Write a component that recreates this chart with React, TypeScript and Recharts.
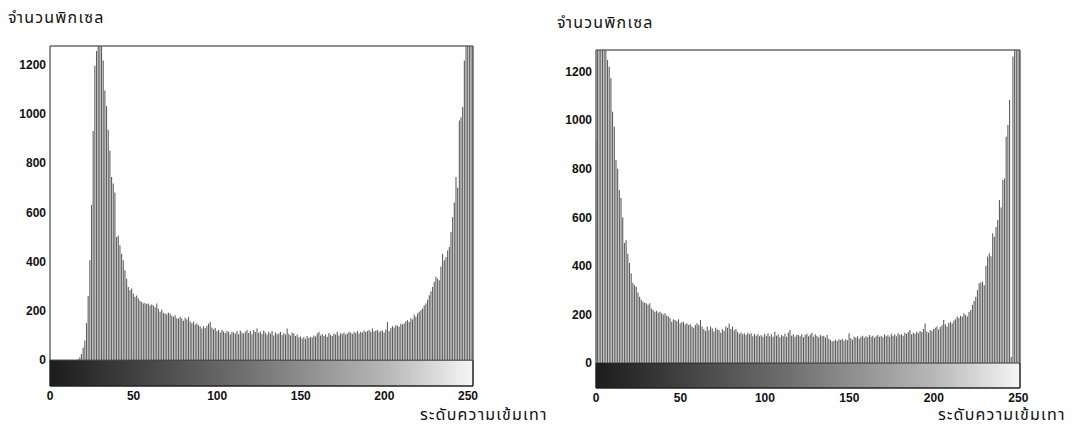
import { Bar, BarChart, ReferenceArea, XAxis, YAxis } from "recharts";

const grayLevels = Array.from({ length: 256 }, (_, i) => i);
const xTicks = [0, 50, 100, 150, 200, 250];
const yTicks = [0, 200, 400, 600, 800, 1000, 1200];
const yTitle = "จำนวนพิกเซล";
const xTitle = "ระดับความเข้มเทา";

// pixel counts per gray level
const leftCounts = [
  0, 0, 0, 0, 0, 0, 0, 0, 0, 0, 0, 0, 0, 0, 0, 0,
  0, 4, 12, 25, 50, 80, 150, 260, 405, 630, 930, 1195, 1255, 1400, 1320, 1290,
  1216, 1094, 1030, 935, 850, 743, 717, 680, 500, 505, 466, 432, 405, 365, 330, 297,
  284, 291, 270, 257, 262, 250, 241, 236, 230, 232, 228, 230, 222, 226, 223, 215,
  230, 209, 196, 205, 192, 189, 186, 192, 189, 180, 176, 182, 170, 169, 176, 169,
  160, 172, 165, 176, 158, 150, 156, 145, 149, 142, 136, 128, 138, 130, 140, 148,
  155, 132, 125, 130, 118, 122, 112, 122, 116, 110, 118, 115, 105, 115, 112, 108,
  118, 105, 120, 112, 108, 115, 122, 110, 118, 105, 122, 114, 128, 110, 116, 106,
  120, 112, 104, 115, 108, 118, 100, 112, 105, 108, 115, 102, 110, 104, 128, 106,
  100, 112, 108, 98, 104, 92, 96, 88, 94, 86, 98, 90, 95, 92, 100, 96,
  108, 115, 100, 106, 98, 104, 95, 110, 102, 98, 108, 104, 115, 100, 110, 106,
  112, 104, 108, 115, 112, 106, 115, 110, 118, 108, 115, 112, 120, 114, 118, 122,
  115, 128, 116, 120, 122, 115, 118, 120, 112, 124, 155, 118, 130, 138, 132, 142,
  140, 135, 148, 145, 150, 158, 162, 155, 170, 165, 185, 176, 190, 196, 203, 210,
  222, 230, 245, 263, 280, 297, 318, 338, 330, 324, 380, 432, 405, 419, 445, 459,
  520, 581, 640, 743, 700, 973, 986, 1027, 1216, 1300, 1350, 1320, 1380, 1300, 1340, 1300,
];

const rightCounts = [
  920, 1400, 1380, 1420, 1350, 1400, 1300, 1248, 1220, 1173, 1035, 973, 836, 800, 712, 680,
  600, 494, 506, 450, 412, 370, 329, 320, 314, 290, 273, 260, 252, 248, 246, 240,
  246, 225, 218, 211, 215, 208, 211, 205, 200, 205, 196, 191, 185, 170, 180, 177,
  172, 180, 164, 168, 170, 160, 164, 156, 160, 150, 145, 156, 164, 155, 177, 150,
  140, 132, 150, 135, 150, 142, 130, 145, 138, 136, 125, 140, 132, 150, 145, 163,
  140, 150, 135, 140, 129, 120, 126, 118, 122, 115, 125, 118, 122, 110, 120, 112,
  118, 110, 115, 108, 120, 112, 122, 110, 118, 108, 129, 112, 118, 106, 115, 110,
  120, 108, 125, 136, 112, 118, 108, 115, 115, 110, 118, 106, 115, 120, 110, 116,
  125, 108, 118, 112, 106, 115, 110, 112, 105, 115, 100, 95, 88, 92, 96, 90,
  98, 95, 100, 92, 98, 94, 122, 102, 96, 108, 104, 110, 100, 108, 112, 104,
  110, 106, 115, 108, 112, 104, 110, 115, 108, 112, 106, 118, 110, 115, 108, 120,
  112, 118, 110, 122, 115, 118, 112, 125, 120, 128, 136, 118, 125, 120, 129, 122,
  132, 128, 140, 163, 130, 125, 136, 132, 140, 145, 150, 138, 148, 155, 177, 160,
  150, 165, 170, 163, 175, 180, 191, 185, 195, 190, 205, 198, 191, 210, 218, 240,
  255, 273, 300, 328, 331, 335, 320, 400, 438, 452, 440, 534, 520, 560, 589, 671,
  640, 754, 760, 932, 980, 1083, 25, 1262, 1350, 1400, 1380, 1300, 1320, 1300, 1280, 1260,
];

const tickFont = {
  fontFamily: "'Liberation Sans', Arial, sans-serif",
  fontSize: 12,
  fontWeight: 700,
  fill: "#111",
};

const titleStyle = {
  position: "absolute" as const,
  fontFamily: "'Noto Sans Thai', 'Noto Sans', 'DejaVu Sans', sans-serif",
  fontSize: 16,
  lineHeight: "20px",
  letterSpacing: 1.2,
  color: "#111",
  whiteSpace: "nowrap" as const,
};

type HistogramProps = {
  id: string;
  counts: number[];
  xMax: number;
  yMin: number;
  yMax: number;
  left: number;
  margin: { top: number; right: number; bottom: number; left: number };
  yAxisWidth: number;
};

function Histogram({ id, counts, xMax, yMin, yMax, left, margin, yAxisWidth }: HistogramProps) {
  const data = grayLevels.map((level, i) => ({ level, count: counts[i] }));
  return (
    <div style={{ position: "absolute", left, top: 0 }}>
      <BarChart width={540} height={428} data={data} margin={margin} barCategoryGap={0}>
        <defs>
          <linearGradient id={id} x1="0" y1="0" x2="1" y2="0">
            <stop offset="0%" stopColor="#1c1c1c" />
            <stop offset="45%" stopColor="#6e6e6e" />
            <stop offset="80%" stopColor="#b8b8b8" />
            <stop offset="100%" stopColor="#f6f6f6" />
          </linearGradient>
        </defs>
        <XAxis
          dataKey="level"
          type="number"
          domain={[0, xMax]}
          ticks={xTicks}
          allowDataOverflow
          interval={0}
          axisLine={false}
          tickLine={false}
          tickSize={0}
          tickMargin={5}
          height={24}
          tick={tickFont}
        />
        <XAxis
          xAxisId="top"
          orientation="top"
          type="number"
          domain={[0, xMax]}
          ticks={xTicks.slice(1)}
          mirror
          tick={false}
          axisLine={false}
          tickSize={4}
          height={0}
          stroke="#222"
        />
        <YAxis
          type="number"
          domain={[yMin, yMax]}
          ticks={yTicks}
          allowDataOverflow
          interval={0}
          axisLine={false}
          tickLine={false}
          tickSize={0}
          tickMargin={4}
          width={yAxisWidth}
          tick={tickFont}
        />
        <YAxis
          yAxisId="right"
          orientation="right"
          type="number"
          domain={[yMin, yMax]}
          ticks={yTicks.slice(1)}
          allowDataOverflow
          mirror
          tick={false}
          axisLine={false}
          tickSize={4}
          width={0}
          stroke="#222"
        />
        <ReferenceArea
          x1={0}
          x2={xMax}
          y1={yMin}
          y2={0}
          fill={`url(#${id})`}
          fillOpacity={1}
          stroke="#222"
          strokeWidth={1}
        />
        <Bar dataKey="count" fill="#5e5e5e" barSize={1.1} isAnimationActive={false} />
        <ReferenceArea
          x1={0}
          x2={xMax}
          y1={yMin}
          y2={yMax}
          fill="none"
          stroke="#222"
          strokeWidth={1}
        />
      </BarChart>
    </div>
  );
}

export default function App() {
  return (
    <div
      style={{
        position: "absolute",
        left: 0,
        top: 0,
        width: 1080,
        height: 428,
        background: "#fff",
        overflow: "hidden",
      }}
    >
      <Histogram
        id="grayBarLeft"
        counts={leftCounts}
        xMax={253}
        yMin={-105}
        yMax={1275}
        left={0}
        margin={{ top: 46, right: 67, bottom: 18, left: 6 }}
        yAxisWidth={44}
      />
      <Histogram
        id="grayBarRight"
        counts={rightCounts}
        xMax={251}
        yMin={-103}
        yMax={1289}
        left={540}
        margin={{ top: 50, right: 60, bottom: 16, left: 8 }}
        yAxisWidth={48}
      />
      <div style={{ ...titleStyle, left: 8, top: 8 }}>{yTitle}</div>
      <div style={{ ...titleStyle, left: 557, top: 13 }}>{yTitle}</div>
      <div style={{ ...titleStyle, left: 420, top: 405 }}>{xTitle}</div>
      <div style={{ ...titleStyle, left: 938, top: 405 }}>{xTitle}</div>
    </div>
  );
}
